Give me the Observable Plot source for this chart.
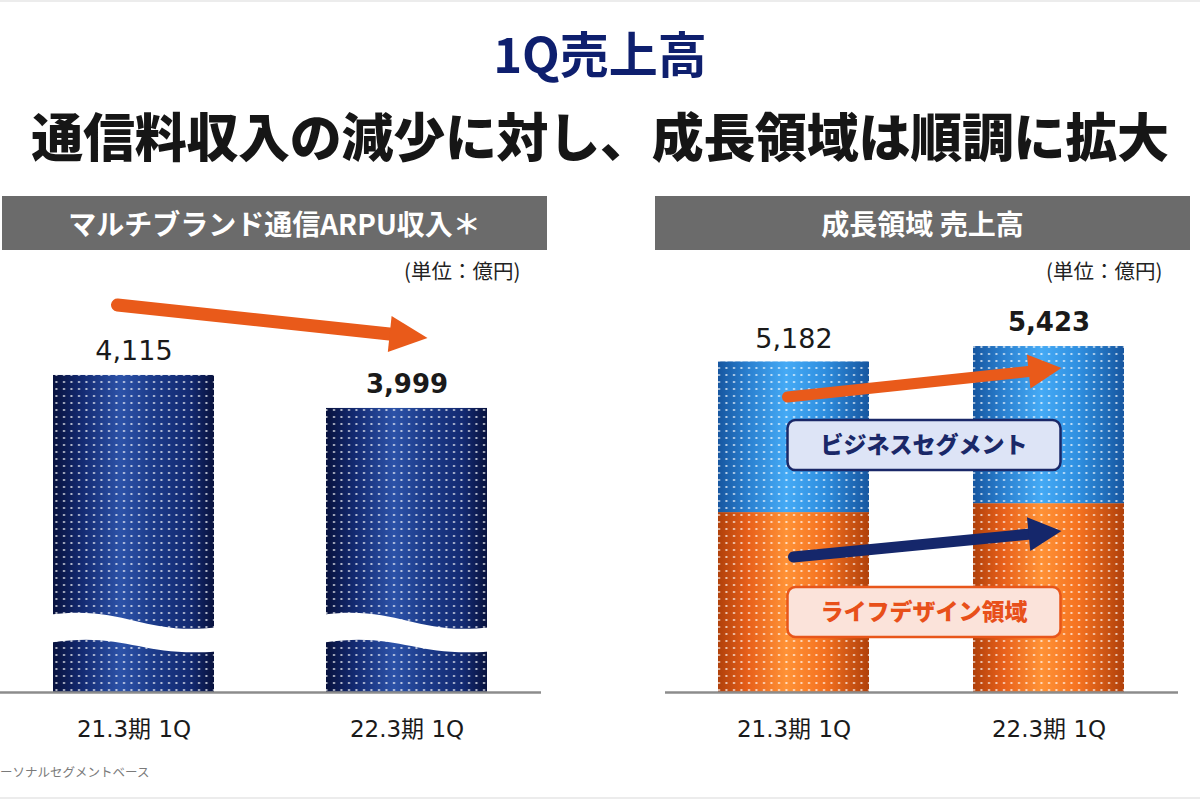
<!DOCTYPE html>
<html><head><meta charset="utf-8">
<script src="https://cdn.jsdelivr.net/npm/d3@7"></script>
<script src="https://cdn.jsdelivr.net/npm/@observablehq/plot@0.6"></script>
<style>
body{margin:0;background:#fff;}
#page{position:relative;width:1200px;height:800px;overflow:hidden;background:#fff;font-family:"Noto Sans CJK JP","Noto Sans",sans-serif;}
.abs{position:absolute;}
#title{left:0;width:1200px;top:21px;text-align:center;font-size:49px;font-weight:700;color:#0e1f6e;line-height:62px;}
#subtitle{left:0;width:1200px;top:102px;text-align:center;font-size:52px;font-weight:900;color:#161616;line-height:66px;letter-spacing:-0.3px;}
.hdr{top:196px;height:54px;background:#6b6b6b;color:#fff;font-size:28px;font-weight:700;text-align:center;line-height:54px;}
.unit{top:256px;font-size:20.5px;color:#222;line-height:28px;}
#foot{left:0;top:763px;font-size:12.5px;color:#7a7a7a;line-height:18px;}
#leftChart{left:0;top:280px;}
#rightChart{left:640px;top:280px;}
.line{left:0;width:1200px;height:2px;background:#ececec;}
</style>
</head>
<body>
<div id="page">
  <div class="abs line" style="top:0"></div>
  <div id="title" class="abs">1Q売上高</div>
  <div id="subtitle" class="abs">通信料収入の減少に対し、成長領域は順調に拡大</div>
  <div class="abs hdr" style="left:2px;width:545px;">マルチブランド通信ARPU収入＊</div>
  <div class="abs hdr" style="left:655px;width:535px;">成長領域 売上高</div>
  <div class="abs unit" style="left:404px;">(単位：億円)</div>
  <div class="abs unit" style="left:1046px;">(単位：億円)</div>
  <div id="leftChart" class="abs"></div>
  <div id="rightChart" class="abs"></div>
  <div id="foot" class="abs">ーソナルセグメントベース</div>
  <div class="abs line" style="top:797px"></div>
  <svg width="0" height="0" style="position:absolute">
    <defs>
      <linearGradient id="gNavy" x1="0" x2="1" y1="0" y2="0">
        <stop offset="0%" stop-color="#08123e"/>
        <stop offset="18%" stop-color="#132a72"/>
        <stop offset="42%" stop-color="#2c52a8"/>
        <stop offset="62%" stop-color="#1c3b8a"/>
        <stop offset="85%" stop-color="#132a72"/>
        <stop offset="100%" stop-color="#08123e"/>
      </linearGradient>
      <linearGradient id="gBlue" x1="0" x2="1" y1="0" y2="0">
        <stop offset="0%" stop-color="#1656a0"/>
        <stop offset="20%" stop-color="#2a80d0"/>
        <stop offset="45%" stop-color="#45aaf5"/>
        <stop offset="70%" stop-color="#2f8fe0"/>
        <stop offset="100%" stop-color="#1656a0"/>
      </linearGradient>
      <linearGradient id="gOrange" x1="0" x2="1" y1="0" y2="0">
        <stop offset="0%" stop-color="#b0400a"/>
        <stop offset="20%" stop-color="#e8601a"/>
        <stop offset="45%" stop-color="#ff9236"/>
        <stop offset="70%" stop-color="#f57220"/>
        <stop offset="100%" stop-color="#b0400a"/>
      </linearGradient>
      <pattern id="dots" patternUnits="userSpaceOnUse" width="7.5" height="7">
        <rect x="3" y="3" width="2" height="2" fill="#ffffff" opacity="0.7"/>
      </pattern>
    </defs>
  </svg>
</div>
<script>
// ---- data ----
const periods = ["21.3期 1Q", "22.3期 1Q"];
const arpuRevenue = [4115, 3999];            // マルチブランド通信ARPU収入
const lifeDesign = [2820, 2960];             // ライフデザイン領域 (estimated)
const business = [2362, 2463];               // ビジネスセグメント (estimated)
const growthTotal = [5182, 5423];            // 成長領域 売上高
const segments = ["ライフデザイン領域", "ビジネスセグメント"];
const arpuAxisStart = 3000;                  // broken axis start value
const arpuBreakValue = 3220;                 // where the wave break sits
const arpuTrend = [4361, 4245];              // arrow anchor values (annotation)
const bizTrend = [4624, 5078];
const lifeTrend = [2116, 2524];
const segmentLabelAt = [1255, 3870];         // label box centres (values)

const numFont = "'DejaVu Sans','Noto Sans CJK JP',sans-serif";
const fmt = d3.format(",");

// ---- left chart ----
const arpuRows = periods.map((p, i) => ({period: p, value: arpuRevenue[i], label: fmt(arpuRevenue[i]), latest: i === periods.length - 1}));
const left = Plot.plot({
  width: 560, height: 480, marginTop: 0, marginBottom: 68, marginLeft: 0, marginRight: 19,
  x: {domain: periods, range: [25.7, 514.4], paddingInner: 0.41, paddingOuter: 0.1, axis: null},
  y: {domain: [arpuAxisStart, 4449], axis: null},
  style: {fontFamily: numFont, background: "transparent", overflow: "visible"},
  marks: [
    Plot.barY(arpuRows, {x: "period", y1: arpuAxisStart, y2: "value", fill: "url(#gNavy)"}),
    Plot.barY(arpuRows, {x: "period", y1: arpuAxisStart, y2: "value", fill: "url(#dots)"}),
    Plot.ruleY([arpuAxisStart], {stroke: "#8c8c8c", strokeWidth: 2.5}),
    Plot.text(arpuRows, {filter: d => !d.latest, x: "period", y: "value", text: "label", dy: -24, fontSize: 27, fill: "#1a1a1a"}),
    Plot.text(arpuRows, {filter: d => d.latest, x: "period", y: "value", text: "label", dy: -24, fontSize: 26, fontWeight: "bold", fill: "#1a1a1a"}),
    Plot.text(periods, {x: d => d, frameAnchor: "bottom", dy: 44, fontSize: 23, fill: "#1a1a1a"})
  ]
});
document.getElementById("leftChart").append(left);

// ---- right chart ----
const growthRows = [];
periods.forEach((p, i) => {
  growthRows.push({period: p, segment: segments[0], value: lifeDesign[i]});
  growthRows.push({period: p, segment: segments[1], value: business[i]});
});
const totalRows = periods.map((p, i) => ({period: p, total: growthTotal[i], label: fmt(growthTotal[i]), latest: i === periods.length - 1}));
const right = Plot.plot({
  width: 560, height: 480, marginTop: 0, marginBottom: 68, marginLeft: 25, marginRight: 22,
  x: {domain: periods, range: [27, 535.5], paddingInner: 0.406, paddingOuter: 0.2, axis: null},
  y: {domain: [0, 6458], axis: null},
  color: {domain: segments, range: ["url(#gOrange)", "url(#gBlue)"]},
  style: {fontFamily: numFont, background: "transparent", overflow: "visible"},
  marks: [
    Plot.barY(growthRows, {x: "period", y: "value", fill: "segment"}),
    Plot.barY(growthRows, {x: "period", y: "value", fill: "url(#dots)"}),
    Plot.ruleY([0], {stroke: "#8c8c8c", strokeWidth: 2.5}),
    Plot.text(totalRows, {filter: d => !d.latest, x: "period", y: "total", text: "label", dy: -23, fontSize: 27, fill: "#1a1a1a"}),
    Plot.text(totalRows, {filter: d => d.latest, x: "period", y: "total", text: "label", dy: -24, fontSize: 26, fontWeight: "bold", fill: "#1a1a1a"}),
    Plot.text(periods, {x: d => d, frameAnchor: "bottom", dy: 44, fontSize: 23, fill: "#1a1a1a"})
  ]
});
document.getElementById("rightChart").append(right);

// ---- annotations drawn from the plots' own scales ----
function bandCenter(chart, cat) {
  const sx = chart.scale("x");
  return sx.apply(cat) + sx.bandwidth / 2;
}
function drawArrow(g, x1, y1, x2, y2, color, w, headLen, headHalf) {
  const dx = x2 - x1, dy = y2 - y1, L = Math.hypot(dx, dy);
  const ux = dx / L, uy = dy / L, px = -uy, py = ux;
  const bx = x2 - ux * headLen, by = y2 - uy * headLen;
  g.append("line").attr("x1", x1).attr("y1", y1).attr("x2", bx + ux * 2).attr("y2", by + uy * 2)
    .attr("stroke", color).attr("stroke-width", w).attr("stroke-linecap", "round");
  g.append("path").attr("d", `M${x2},${y2}L${bx + px * headHalf},${by + py * headHalf}L${bx - px * headHalf},${by - py * headHalf}Z`)
    .attr("fill", color);
}

// left: wave break + arrow
(function () {
  const svg = d3.select(left);
  const sx = left.scale("x"), sy = left.scale("y");
  const g = svg.append("g");
  const yc = sy.apply(arpuBreakValue);
  periods.forEach(p => {
    const x0 = sx.apply(p) - 2, x1 = sx.apply(p) + sx.bandwidth + 2, w = x1 - x0;
    const d = `M${x0},${yc - 15}C${x0 + w * 0.45},${yc - 24} ${x0 + w * 0.55},${yc + 6} ${x1},${yc - 2}` +
      `L${x1},${yc + 22}C${x0 + w * 0.55},${yc + 28} ${x0 + w * 0.45},${yc + 2} ${x0},${yc + 13}Z`;
    g.append("path").attr("d", d).attr("fill", "#fff");
  });
  drawArrow(g, bandCenter(left, periods[0]) - 16, sy.apply(arpuTrend[0]),
            bandCenter(left, periods[1]) + 21, sy.apply(arpuTrend[1]), "#e95a1a", 13, 38, 18);
})();

// right: arrows + segment label boxes
(function () {
  const svg = d3.select(right);
  const sy = right.scale("y");
  const g = svg.append("g");
  const c0 = bandCenter(right, periods[0]), c1 = bandCenter(right, periods[1]);
  drawArrow(g, c0 - 6, sy.apply(bizTrend[0]), c1 + 13, sy.apply(bizTrend[1]), "#e95a1a", 11, 33, 17);
  drawArrow(g, c0, sy.apply(lifeTrend[0]), c1 + 13, sy.apply(lifeTrend[1]), "#15276b", 11, 33, 17);
  const boxes = [
    {name: segments[1], at: segmentLabelAt[1], fill: "#dde4f6", stroke: "#1a2868", text: "#1a2868"},
    {name: segments[0], at: segmentLabelAt[0], fill: "#fbe3da", stroke: "#e8561a", text: "#e8501a"}
  ];
  boxes.forEach(b => {
    const x0 = c0 - 6, x1 = c1 + 12, yc = sy.apply(b.at);
    g.append("rect").attr("x", x0).attr("y", yc - 25).attr("width", x1 - x0).attr("height", 50)
      .attr("rx", 8).attr("fill", b.fill).attr("stroke", b.stroke).attr("stroke-width", 2.5);
    g.append("text").attr("x", (x0 + x1) / 2).attr("y", yc).attr("dy", "0.36em").attr("text-anchor", "middle")
      .attr("font-family", "'Noto Sans CJK JP',sans-serif").attr("font-weight", 900).attr("font-size", 23)
      .attr("fill", b.text).text(b.name);
  });
})();
</script>
</body></html>
